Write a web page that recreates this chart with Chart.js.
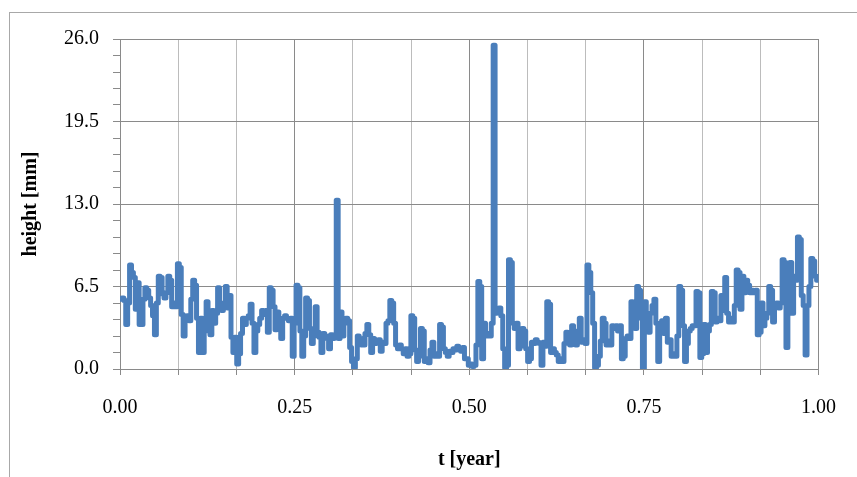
<!DOCTYPE html>
<html><head><meta charset="utf-8">
<script src="https://cdn.jsdelivr.net/npm/chart.js@4"></script>
<style>
html,body{margin:0;padding:0;background:#fff;overflow:hidden;width:857px;height:477px}
#frame{position:absolute;left:9px;top:12px;width:900px;height:500px;border:1px solid #a8a8a8;box-sizing:border-box}
#wrap{position:absolute;left:0;top:0;width:857px;height:477px}
</style></head><body>
<div id="frame"></div>
<div id="wrap"><canvas id="c" width="857" height="477"></canvas></div>
<script>
// daily heights [mm], day 0 .. 365
const heights = [
5.5,5.6,5.4,3.5,5.2,8.2,7.6,7.2,4.7,6.8,
3.5,3.5,5.5,6.4,6.2,5.6,5.0,4.2,2.7,5.2,
7.3,7.2,5.9,5.6,6.0,7.3,7.0,4.9,5.2,4.9,
8.3,8.0,4.3,2.6,4.0,4.2,3.8,5.5,7.0,6.6,
4.0,1.3,4.0,1.3,3.0,5.3,4.6,2.7,4.6,3.6,
4.4,6.4,5.0,4.6,5.2,6.5,4.8,5.8,2.5,1.3,
2.5,0.4,1.2,2.8,4.0,3.5,4.0,4.2,5.1,3.6,
1.3,3.0,3.5,4.0,4.6,4.3,4.6,2.9,6.4,6.2,
4.9,3.1,4.5,3.8,2.4,4.0,4.2,4.0,3.8,4.0,
1.0,3.6,6.6,6.4,3.0,1.0,2.6,5.6,5.4,3.2,
2.0,2.6,4.9,2.9,2.5,1.3,2.8,2.6,2.4,1.6,
2.7,2.4,2.6,13.3,2.4,4.5,2.6,3.6,4.0,3.8,
1.7,0.6,0.1,0.8,2.6,2.4,1.9,1.9,2.8,3.5,
2.7,1.3,2.4,2.0,2.1,2.3,1.4,2.1,2.0,3.6,
3.8,5.4,5.2,3.6,1.9,1.6,1.9,1.6,1.2,1.6,
1.0,1.2,4.2,4.0,1.5,0.6,1.0,3.2,3.0,0.6,
0.8,0.5,1.5,2.1,1.0,1.2,1.0,3.5,3.3,1.6,
1.3,1.0,1.4,1.3,1.6,1.5,1.8,1.6,1.4,1.7,
0.8,0.8,0.3,0.4,0.2,0.3,1.9,6.9,6.5,0.8,
3.6,2.6,2.8,2.6,3.6,25.5,4.4,4.6,4.8,4.2,
1.6,0.1,0.3,8.6,8.4,3.6,3.2,3.6,1.6,1.8,
3.2,3.0,1.6,0.6,0.8,2.1,2.0,2.3,2.1,2.0,
0.3,2.1,1.8,5.3,5.1,1.3,1.6,1.3,1.1,0.6,
0.8,0.6,2.0,2.9,2.7,1.9,3.4,2.4,1.9,3.0,
4.0,2.1,2.3,2.0,8.2,7.6,6.0,3.6,0.1,0.3,
1.0,2.2,4.0,3.6,1.9,2.2,1.9,3.4,3.2,3.4,
3.0,3.4,0.8,1.0,2.4,2.6,2.4,5.3,4.6,3.2,
6.5,6.2,4.0,0.0,5.3,4.2,2.9,4.4,5.0,5.5,
3.6,0.6,3.0,3.8,2.8,4.0,2.1,2.3,1.0,1.2,
1.0,2.6,6.5,6.2,3.4,0.6,2.0,3.0,3.2,3.4,
3.4,6.1,6.0,0.9,1.2,3.5,1.3,3.0,3.5,6.1,
6.0,3.7,4.0,3.8,5.8,4.6,7.2,4.4,3.7,4.0,
3.7,5.0,7.8,7.6,4.7,7.3,6.0,7.0,6.6,6.0,
6.2,6.0,6.2,2.7,2.9,5.2,3.4,4.0,4.4,6.5,
6.2,3.7,5.0,5.2,4.8,5.2,8.6,8.4,1.7,4.4,
8.4,4.4,7.3,7.0,10.4,10.2,5.8,5.0,1.1,5.0,
6.5,8.7,8.5,7.3,7.0,7.3
];
const daysPerYear = 365;
const monthsPerYear = 12;
const xLabelEvery = 3;          // label every 0.25 year
const yMin = 0, yMax = 26;
const yMinorStep = 1.3, yMajorStep = 6.5;
const xTitle = 't [year]';
const yTitle = 'height [mm]';

const points = heights.map((h, d) => ({ x: d / daysPerYear, y: h }));
const isMajorY = v => Math.abs(v / yMajorStep - Math.round(v / yMajorStep)) < 1e-6;

const tickFont = { family: '"Liberation Serif", "Times New Roman", serif', size: 20 };
const titleFont = { family: '"Liberation Serif", "Times New Roman", serif', size: 20, weight: 'bold' };

new Chart(document.getElementById('c'), {
  type: 'line',
  data: { datasets: [{
    data: points,
    borderColor: '#4A7EBB',
    borderWidth: 5,
    stepped: true,
    pointRadius: 0,
    fill: false,
    borderCapStyle: 'round',
    borderJoinStyle: 'round'
  }]},
  options: {
    responsive: false,
    animation: false,
    layout: { padding: { left: 0, top: 39, right: 37, bottom: 0 } },
    plugins: { legend: { display: false }, tooltip: { enabled: false } },
    scales: {
      x: {
        type: 'linear', min: 0, max: 1,
        afterBuildTicks: s => { s.ticks = Array.from({length: monthsPerYear + 1}, (_, i) => ({ value: i / monthsPerYear })); },
        afterFit: s => { s.height = 108; },
        ticks: {
          autoSkip: false, maxRotation: 0, color: '#000', font: tickFont, padding: 21,
          callback: (v, i) => (i % xLabelEvery === 0 ? v.toFixed(2) : '')
        },
        grid: {
          color: c => (c.index % xLabelEvery === 0 ? '#8a8a8a' : '#bcbcbc'),
          tickColor: '#8a8a8a', tickLength: 6, lineWidth: 1
        },
        border: { color: '#8a8a8a', width: 1 },
        title: { display: true, text: xTitle, color: '#000', font: titleFont, padding: { top: 0, bottom: 5 } }
      },
      y: {
        min: yMin, max: yMax,
        ticks: {
          stepSize: yMinorStep, autoSkip: false, color: '#000', font: tickFont, padding: 14,
          callback: v => (isMajorY(v) ? v.toFixed(1) : '')
        },
        afterFit: s => { s.width = 120; },
        grid: {
          color: c => (isMajorY(c.tick.value) ? '#8a8a8a' : 'rgba(0,0,0,0)'),
          tickColor: '#8a8a8a', tickLength: 7, lineWidth: 1
        },
        border: { color: '#8a8a8a', width: 1 },
        title: { display: true, text: yTitle, color: '#000', font: titleFont, padding: { top: 19, bottom: 0 } }
      }
    }
  }
});
</script>
</body></html>
